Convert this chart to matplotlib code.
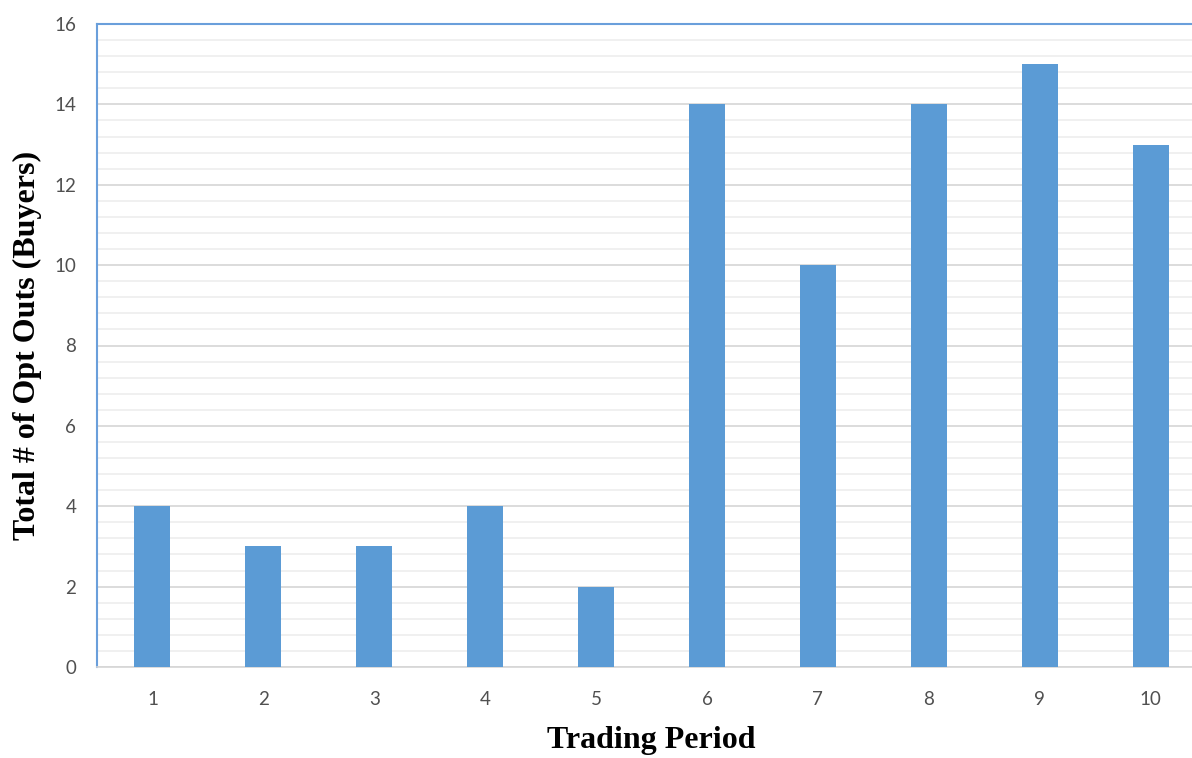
import matplotlib.pyplot as plt
import numpy as np
from matplotlib.ticker import MultipleLocator

periods = ["1", "2", "3", "4", "5", "6", "7", "8", "9", "10"]
opt_outs = [4, 3, 3, 4, 2, 14, 10, 14, 15, 13]

bar_color = "#5B9BD5"
tick_color = "#505050"

fig = plt.figure(figsize=(11.92, 7.58), dpi=100)
# axes run a little past the right edge of the figure
ax = fig.add_axes([97 / 1192, 1 - 667 / 758, 1109 / 1192, 643 / 758])

x = np.arange(1, len(periods) + 1)
ax.bar(x, opt_outs, width=0.325, color=bar_color, zorder=3)

ax.set_xlim(0.5, 10.5)
ax.set_ylim(0, 16)
ax.set_xticks(x)
ax.set_xticklabels(periods)
ax.yaxis.set_major_locator(MultipleLocator(2))
ax.yaxis.set_minor_locator(MultipleLocator(0.4))

ax.grid(axis="y", which="major", color="#D6D6D6", linewidth=1.2, zorder=0)
ax.grid(axis="y", which="minor", color="#EDEDED", linewidth=1.2, zorder=0)

ax.tick_params(axis="both", which="both", length=0)
ax.tick_params(axis="y", pad=15, labelsize=13.5, labelcolor=tick_color)
ax.tick_params(axis="x", pad=17, labelsize=13.5, labelcolor=tick_color)
for lab in ax.get_xticklabels() + ax.get_yticklabels():
    lab.set_fontfamily("Lato")

ax.spines["left"].set_color("#6A9FDB")
ax.spines["left"].set_linewidth(1.5)
ax.spines["top"].set_color("#6A9FDB")
ax.spines["top"].set_linewidth(1.5)
ax.spines["bottom"].set_color("#D6D6D6")
ax.spines["bottom"].set_linewidth(1.2)
ax.spines["right"].set_visible(False)

ax.set_xlabel("Trading Period", fontfamily="Liberation Serif", fontweight="bold",
              fontsize=23)
ax.set_ylabel("Total # of Opt Outs (Buyers)", fontfamily="Liberation Serif",
              fontweight="bold", fontsize=23)
ax.xaxis.set_label_coords(0.5, -0.092)
ax.yaxis.set_label_coords(-0.05, 0.5)

fig.savefig("out.png", dpi=100)
